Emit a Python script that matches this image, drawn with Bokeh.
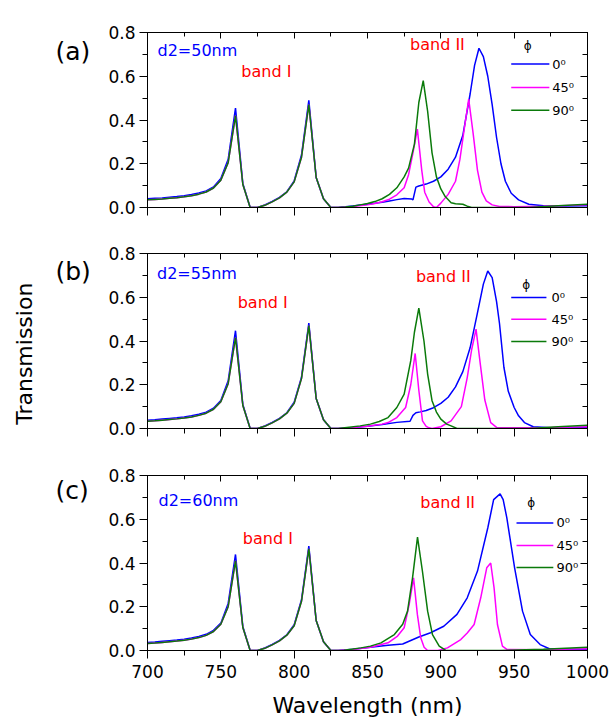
import math
from bokeh.plotting import figure
from bokeh.models import Label, LinearAxis, SingleIntervalTicker, Range1d, PrintfTickFormatter
from bokeh.layouts import column, row
from bokeh.embed import file_html
from bokeh.resources import INLINE

FONT = "DejaVu Sans"
BLUE = "#0000FF"
MAGENTA = "#FF00FF"
GREEN = "#0A7A0A"
RED = "#FF0000"

# ---------------- data ----------------
wl_band1 = [700, 705, 710, 715, 720, 725, 730, 735, 740, 745, 750, 755, 760,
            765, 770, 775, 780, 785, 790, 795, 800, 805, 810, 815, 820, 825]

# panel (a) d2 = 50 nm
blue_a_band1 = [0.040, 0.042, 0.044, 0.047, 0.050, 0.054, 0.059, 0.066, 0.076, 0.094, 0.133, 0.22, 0.454,
                0.11, 0.0, 0.0, 0.012, 0.028, 0.046, 0.072, 0.122, 0.24, 0.49, 0.137, 0.04, 0.0]
green_a_band1 = [0.035, 0.037, 0.039, 0.042, 0.045, 0.049, 0.054, 0.061, 0.071, 0.089, 0.125, 0.205, 0.42,
                 0.105, 0.0, 0.0, 0.010, 0.026, 0.044, 0.070, 0.117, 0.23, 0.47, 0.137, 0.04, 0.0]
blue_a_wl2 = [830, 835, 840, 845, 850, 855, 860, 865, 870, 875, 880, 881, 883, 885, 890, 895, 900, 905, 910,
              915, 920, 923, 926, 929, 932, 935, 938, 941, 944, 948, 953, 960, 970, 985, 1000]
blue_a_band2 = [0.0, 0.003, 0.007, 0.011, 0.015, 0.019, 0.024, 0.03, 0.036, 0.041, 0.039, 0.035, 0.093, 0.098,
                0.107, 0.12, 0.14, 0.175, 0.23, 0.33, 0.52, 0.65, 0.728, 0.69, 0.6, 0.47, 0.32, 0.2, 0.12,
                0.065, 0.035, 0.015, 0.008, 0.007, 0.008]
magenta_a_wl2 = [830, 840, 850, 855, 860, 865, 870, 875, 878, 881, 884, 887, 889, 892, 895, 897, 900, 905, 910,
                 913, 916, 919, 922, 925, 928, 931, 935, 940, 950, 970, 1000]
magenta_a_band2 = [0.0, 0.004, 0.012, 0.018, 0.026, 0.038, 0.058, 0.09, 0.15, 0.25, 0.358, 0.17, 0.07, 0.025,
                   0.003, 0.0, 0.02, 0.06, 0.12, 0.22, 0.36, 0.495, 0.34, 0.17, 0.07, 0.03, 0.012, 0.005,
                   0.004, 0.006, 0.012]
green_a_wl2 = [830, 835, 840, 845, 850, 855, 860, 865, 870, 875, 878, 882, 885, 888, 891, 894, 897, 900, 903,
               907, 910, 915, 918, 921, 960, 980, 1000]
green_a_band2 = [0.0, 0.002, 0.006, 0.012, 0.018, 0.027, 0.04, 0.06, 0.09, 0.14, 0.18, 0.29, 0.48, 0.58, 0.44,
                 0.25, 0.14, 0.085, 0.05, 0.022, 0.017, 0.015, 0.006, 0.0, 0.0, 0.008, 0.015]

# panel (b) d2 = 55 nm
blue_b_band1 = [0.038, 0.040, 0.043, 0.046, 0.049, 0.053, 0.058, 0.065, 0.075, 0.093, 0.128, 0.218, 0.447,
                0.11, 0.0, 0.0, 0.012, 0.028, 0.046, 0.072, 0.12, 0.235, 0.482, 0.137, 0.04, 0.0]
green_b_band1 = [0.033, 0.035, 0.038, 0.041, 0.044, 0.048, 0.053, 0.060, 0.070, 0.088, 0.122, 0.205, 0.416,
                 0.105, 0.0, 0.0, 0.010, 0.026, 0.044, 0.070, 0.115, 0.228, 0.47, 0.137, 0.04, 0.0]
blue_b_wl2 = [830, 840, 850, 860, 870, 879, 881, 883, 886, 890, 895, 900, 905, 910, 915, 920, 925, 929, 932,
              935, 938, 940, 943, 946, 950, 953, 957, 963, 975, 1000]
blue_b_band2 = [0.0, 0.004, 0.01, 0.018, 0.028, 0.033, 0.06, 0.072, 0.076, 0.082, 0.095, 0.115, 0.143, 0.19,
                0.26, 0.37, 0.53, 0.66, 0.72, 0.69, 0.58, 0.48, 0.28, 0.17, 0.096, 0.058, 0.027, 0.008,
                0.004, 0.003]
magenta_b_wl2 = [830, 840, 850, 860, 864, 870, 876, 879.5, 882.5, 885, 887.5, 890, 892, 894, 900, 907, 914,
                 918, 921, 924, 927, 930, 934, 938, 945, 970, 1000]
magenta_b_band2 = [0.0, 0.004, 0.01, 0.02, 0.027, 0.05, 0.096, 0.2, 0.343, 0.175, 0.035, 0.01, 0.003, 0.0,
                   0.008, 0.035, 0.1, 0.233, 0.36, 0.454, 0.29, 0.13, 0.027, 0.005, 0.003, 0.004, 0.008]
green_b_wl2 = [830, 836, 845, 852, 858, 864, 870, 875, 879.5, 882, 885, 888.5, 891, 894, 897, 900, 904, 907,
               911, 960, 980, 1000]
green_b_band2 = [0.0, 0.005, 0.012, 0.02, 0.032, 0.05, 0.096, 0.157, 0.31, 0.44, 0.55, 0.4, 0.249, 0.127,
                 0.075, 0.043, 0.02, 0.012, 0.0, 0.0, 0.008, 0.015]

# panel (c) d2 = 60 nm
blue_c_band1 = [0.037, 0.039, 0.042, 0.045, 0.048, 0.052, 0.057, 0.064, 0.074, 0.092, 0.125, 0.215, 0.439,
                0.11, 0.0, 0.0, 0.012, 0.028, 0.046, 0.072, 0.118, 0.232, 0.477, 0.137, 0.04, 0.0]
green_c_band1 = [0.032, 0.034, 0.037, 0.040, 0.043, 0.047, 0.052, 0.059, 0.069, 0.087, 0.12, 0.2, 0.41,
                 0.105, 0.0, 0.0, 0.010, 0.026, 0.044, 0.070, 0.113, 0.225, 0.465, 0.137, 0.04, 0.0]
blue_c_wl2 = [830, 840, 852, 864, 874, 879.5, 885, 893, 902, 911, 918, 925, 932, 936, 940.4, 942.5, 945, 950.3,
              955.7, 961, 967.7, 974, 1000]
blue_c_band2 = [0.0, 0.006, 0.015, 0.024, 0.03, 0.046, 0.062, 0.081, 0.111, 0.165, 0.241, 0.363, 0.56, 0.69,
                0.716, 0.69, 0.606, 0.378, 0.18, 0.073, 0.027, 0.008, 0.003]
magenta_c_wl2 = [830, 840, 852, 864, 870.5, 875, 878.4, 881.4, 884, 886.3, 888.6, 891, 898, 904.5, 913.6, 918,
                 922.7, 927.2, 931.3, 934, 936.3, 938.6, 942, 945, 970, 1000]
magenta_c_band2 = [0.0, 0.005, 0.015, 0.035, 0.066, 0.104, 0.21, 0.332, 0.165, 0.058, 0.015, 0.0, 0.0, 0.012,
                   0.05, 0.08, 0.119, 0.241, 0.378, 0.40, 0.286, 0.119, 0.02, 0.005, 0.004, 0.008]
green_c_wl2 = [830, 834, 845.6, 852, 859.2, 868.3, 874, 877.3, 880.7, 884.1, 887.5, 891, 894.3, 898.9, 903.4,
               940, 970, 1000]
green_c_band2 = [0.0, 0.001, 0.012, 0.02, 0.035, 0.073, 0.12, 0.18, 0.332, 0.518, 0.36, 0.18, 0.073, 0.02,
                 0.0, 0.0, 0.006, 0.015]

series_labels = ["0\u2070", "45\u2070", "90\u2070"]
panel_tags = ["(a)", "(b)", "(c)"]
thickness_labels = ["d2=50nm", "d2=55nm", "d2=60nm"]
x_label = "Wavelength (nm)"
y_label = "Transmission"

# ---------------- layout (positions only) ----------------
TAG_W = 100          # width of the left strip that carries (a)/(b)/(c) and the y title
FRAME_H = 175
panels = [
    dict(tag=panel_tags[0], d2=thickness_labels[0],
         blue=(wl_band1 + blue_a_wl2, blue_a_band1 + blue_a_band2),
         magenta=(wl_band1 + magenta_a_wl2, green_a_band1 + magenta_a_band2),
         green=(wl_band1 + green_a_wl2, green_a_band1 + green_a_band2),
         top=32, bottom=23, tag_top=25, d2_pos=(706.8, 0.716), b1_pos=(764.0, 0.62), b2_pos=(879.0, 0.744),
         leg_x=(948.0, 974.0), leg_y=(0.656, 0.549, 0.445), leg_lx=976.0, phi=(956.5, 0.74)),
    dict(tag=panel_tags[1], d2=thickness_labels[1],
         blue=(wl_band1 + blue_b_wl2, blue_b_band1 + blue_b_band2),
         magenta=(wl_band1 + magenta_b_wl2, green_b_band1 + magenta_b_band2),
         green=(wl_band1 + green_b_wl2, green_b_band1 + green_b_band2),
         top=23, bottom=22, tag_top=23, d2_pos=(706.5, 0.709), b1_pos=(761.5, 0.576), b2_pos=(883.0, 0.693),
         leg_x=(948.0, 972.0), leg_y=(0.599, 0.5, 0.398), leg_lx=975.5, phi=(955.5, 0.657)),
    dict(tag=panel_tags[2], d2=thickness_labels[2],
         blue=(wl_band1 + blue_c_wl2, blue_c_band1 + blue_c_band2),
         magenta=(wl_band1 + magenta_c_wl2, green_c_band1 + magenta_c_band2),
         green=(wl_band1 + green_c_wl2, green_c_band1 + green_c_band2),
         top=25, bottom=75, tag_top=24, d2_pos=(707.5, 0.686), b1_pos=(765.0, 0.514), b2_pos=(886.0, 0.675),
         leg_x=(951.6, 976.7), leg_y=(0.583, 0.48, 0.379), leg_lx=978.9, phi=(959.0, 0.675)),
]


def lab(p, x, y, text, size, color="black", align="left", baseline="middle", angle=0.0):
    p.add_layout(Label(x=x, y=y, text=text, text_font=FONT, text_font_size=size, text_color=color,
                       text_align=align, text_baseline=baseline, angle=angle))


def hide_labels(ax):
    ax.major_label_text_color = None
    ax.major_label_text_font_size = "1px"
    ax.major_label_standoff = 0


rows = []
for i, cfg in enumerate(panels):
    last = i == len(panels) - 1
    H = cfg["top"] + FRAME_H + cfg["bottom"]

    # left strip with the panel tag (and the shared y title on the middle panel)
    t = figure(width=TAG_W, height=H, x_range=Range1d(0, TAG_W), y_range=Range1d(0, H),
               x_axis_type=None, y_axis_type=None, output_backend="svg", toolbar_location=None,
               min_border=0, min_border_left=0, min_border_right=0, min_border_top=0, min_border_bottom=0,
               outline_line_color=None, background_fill_color="white", border_fill_color="white")
    t.grid.visible = False
    lab(t, 55, H - cfg["tag_top"], cfg["tag"], "25px")
    if i == 1:
        lab(t, 24, H - 126, y_label, "22px", align="center", angle=math.pi / 2)

    p = figure(frame_width=440, frame_height=FRAME_H,
               x_range=Range1d(700, 1000), y_range=Range1d(0, 0.8),
               output_backend="svg", toolbar_location=None,
               min_border_left=147 - TAG_W, min_border_right=23,
               min_border_top=cfg["top"], min_border_bottom=cfg["bottom"],
               background_fill_color="white", border_fill_color="white")
    p.grid.visible = False
    p.outline_line_color = "black"
    p.outline_line_width = 1

    xa = p.xaxis[0]
    xa.ticker = SingleIntervalTicker(interval=50, num_minor_ticks=2)
    xa.major_tick_out = 8
    xa.major_tick_in = 0
    xa.minor_tick_out = 5
    xa.minor_tick_in = 0
    xa.axis_line_color = "black"
    if last:
        xa.major_label_text_font = FONT
        xa.major_label_text_font_size = "17px"
        xa.major_label_text_color = "black"
        xa.major_label_standoff = 6
        xa.axis_label = x_label
        xa.axis_label_text_font = FONT
        xa.axis_label_text_font_size = "22px"
        xa.axis_label_text_font_style = "normal"
        xa.axis_label_text_color = "black"
        xa.axis_label_standoff = 12
    else:
        hide_labels(xa)

    ya = p.yaxis[0]
    ya.ticker = SingleIntervalTicker(interval=0.2, num_minor_ticks=2)
    ya.formatter = PrintfTickFormatter(format="%.1f")
    ya.major_tick_out = 8
    ya.major_tick_in = 0
    ya.minor_tick_out = 5
    ya.minor_tick_in = 0
    ya.major_label_text_font = FONT
    ya.major_label_text_font_size = "17px"
    ya.major_label_text_color = "black"
    ya.major_label_standoff = 4
    ya.axis_line_color = "black"

    top_ax = LinearAxis(ticker=SingleIntervalTicker(interval=50, num_minor_ticks=2),
                        major_tick_in=6, major_tick_out=0, minor_tick_in=4, minor_tick_out=0)
    hide_labels(top_ax)
    p.add_layout(top_ax, "above")
    right_ax = LinearAxis(ticker=SingleIntervalTicker(interval=0.2, num_minor_ticks=2),
                          major_tick_in=7, major_tick_out=0, minor_tick_in=5, minor_tick_out=0)
    hide_labels(right_ax)
    p.add_layout(right_ax, "right")

    bx, by = cfg["blue"]
    mx, my = cfg["magenta"]
    gx, gy = cfg["green"]
    p.line(bx, by, line_color=BLUE, line_width=1.5)
    p.line(mx, my, line_color=MAGENTA, line_width=1.5)
    p.line(gx, gy, line_color=GREEN, line_width=1.5)

    # legend drawn Origin-style
    lx0, lx1 = cfg["leg_x"]
    for col, ly, text in zip([BLUE, MAGENTA, GREEN], cfg["leg_y"], series_labels):
        p.line([lx0, lx1], [ly, ly], line_color=col, line_width=1.5)
        lab(p, cfg["leg_lx"], ly, text, "13px")
    lab(p, cfg["phi"][0], cfg["phi"][1], "\u03d5", "12px")

    lab(p, cfg["d2_pos"][0], cfg["d2_pos"][1], cfg["d2"], "16px", color=BLUE)
    lab(p, cfg["b1_pos"][0], cfg["b1_pos"][1], "band I", "16px", color=RED)
    lab(p, cfg["b2_pos"][0], cfg["b2_pos"][1], "band II", "16px", color=RED)

    rows.append(row(t, p, spacing=0))

layout = column(*rows, spacing=0)
open("out.html", "w").write(file_html(layout, INLINE))
